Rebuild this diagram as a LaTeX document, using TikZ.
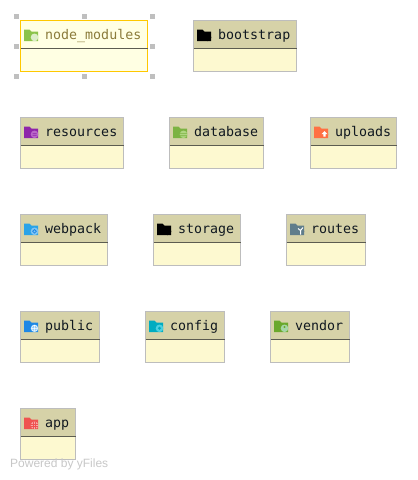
\documentclass[tikz,border=0pt]{standalone}
\usepackage{fontspec}
\usepackage{xcolor}
\setmainfont{Liberation Sans}
\newfontfamily\titlefont{DejaVu Sans Mono}
\definecolor{headcol}{HTML}{D6D2A8}
\definecolor{bodycol}{HTML}{FDF9D0}
\definecolor{linecol}{HTML}{BDBDBD}
\definecolor{titlecol}{HTML}{101820}
\definecolor{rulecol}{HTML}{5C5C50}
\definecolor{nodecol}{HTML}{8BC34A}
\definecolor{nodebadge}{HTML}{DCEDC8}
\definecolor{rescol}{HTML}{8E24AA}
\definecolor{resbadge}{HTML}{BA68C8}
\definecolor{dbcol}{HTML}{7CB342}
\definecolor{dbbadge}{HTML}{AED581}
\definecolor{upcol}{HTML}{FF7043}
\definecolor{webcol}{HTML}{29A3E8}
\definecolor{webbadge}{HTML}{81C4F4}
\definecolor{routecol}{HTML}{607D8B}
\definecolor{pubcol}{HTML}{1E88E5}
\definecolor{pubbadge}{HTML}{90CAF9}
\definecolor{confcol}{HTML}{00ACC1}
\definecolor{confbadge}{HTML}{4DD0E1}
\definecolor{vendcol}{HTML}{6AA82C}
\definecolor{vendbadge}{HTML}{A5D6A7}
\definecolor{appcol}{HTML}{EF5350}
\definecolor{appbadge}{HTML}{F8A8A8}
\tikzset{
  headbox/.style={draw=linecol,fill=headcol,line width=1pt,anchor=north west,minimum height=27.5pt,inner sep=0pt,outer sep=0pt},
  bodybox/.style={draw=linecol,fill=bodycol,line width=1pt,anchor=north west,minimum height=23.5pt,inner sep=0pt,outer sep=0pt},
  titletext/.style={text=titlecol,anchor=base west,inner sep=0pt,font=\titlefont\fontsize{13.3}{14}\selectfont},
  handle/.style={fill=black!25,minimum size=5pt,inner sep=0pt}
}
\newcommand{\folderbox}[8]{
  \node[headbox,minimum width=#4pt] (#1) at (#2,#3) {};
  \node[bodybox,minimum width=#4pt] (#1body) at (#1.south west) {};
  \draw[rulecol,line width=1pt] (#1.south west) -- (#1.south east);
  \node[titletext] (#1title) at ([shift={(24.5,18.5)}]#1.north west) {#5};
  \begin{scope}[shift={(#1.north west)}]
    \fill[#6] (3.5,9) -- (9,9) -- (11,11) -- (17.5,11) -- (17.5,20.5) -- (3.5,20.5) -- cycle;
    \fill[#7] (14,16.8) circle (3.8pt);
    #8
  \end{scope}
}
\begin{document}
\begin{tikzpicture}[x=1pt,y=-1pt]
  \useasboundingbox (0,0) rectangle (418,480);
  \foreach \hx/\hy/\hname in {16.5/16.5/a,84.5/16.5/b,152.5/16.5/c,16.5/46.5/d,152.5/46.5/e,16.5/76.5/f,84.5/76.5/g,152.5/76.5/h} \node[handle] (handle\hname) at (\hx,\hy) {};
  {\definecolor{headcol}{HTML}{FFFFE3}\definecolor{bodycol}{HTML}{FFFFE3}\definecolor{linecol}{HTML}{FFC800}\definecolor{titlecol}{HTML}{8B7B3A}
  \folderbox{nodemodules}{20.5}{20.5}{127}{node\_modules}{nodecol}{nodebadge}{\fill[white!70!nodecol] (12,17) -- (14,14) -- (16,17) -- (16,20) -- (12,20) -- cycle;}}
  \folderbox{bootstrap}{193.5}{20.5}{103}{bootstrap}{black}{black}{}
  \folderbox{resources}{20.5}{117.5}{103}{resources}{rescol}{resbadge}{\fill[rescol] (12,15.5) rectangle (16,16.2) (12,17.3) rectangle (16,18);}
  \folderbox{database}{169.5}{117.5}{94}{database}{dbcol}{dbbadge}{\fill[dbcol] (10.5,15.5) rectangle (17.5,16.2) (10.5,17.8) rectangle (17.5,18.5);}
  \folderbox{uploads}{310.5}{117.5}{86}{uploads}{upcol}{upcol}{\fill[white] (14,13.5) -- (17,16.5) -- (15.2,16.5) -- (15.2,19) -- (12.8,19) -- (12.8,16.5) -- (11,16.5) -- cycle;}
  \folderbox{webpack}{20.5}{214.5}{87}{webpack}{webcol}{webbadge}{\draw[pubcol,line width=.8pt] (14,16.8) circle (1.8pt);}
  \folderbox{storage}{153.5}{214.5}{87}{storage}{black}{black}{}
  \folderbox{routes}{286.5}{214.5}{79}{routes}{routecol}{routecol}{\draw[white,line width=1pt] (14,20) -- (14,16) -- (11.5,14) (14,16) -- (16.5,13);}
  \folderbox{public}{20.5}{311.5}{79}{public}{pubcol}{pubbadge}{\draw[white,line width=.5pt] (14,16.8) circle (3pt) (11,16.8) -- (17,16.8) (14,13.8) -- (14,19.8);}
  \folderbox{config}{145.5}{311.5}{79}{config}{confcol}{confbadge}{\fill[confcol] (14,16.8) circle (1.6pt);}
  \folderbox{vendor}{270.5}{311.5}{79}{vendor}{vendcol}{vendbadge}{\fill[vendcol] (14,15.5) circle (1.2pt);}
  \folderbox{app}{20.5}{408.5}{55}{app}{appcol}{appbadge}{\draw[appcol,line width=.5pt] (10.5,15.5) -- (17.5,15.5) (10.5,18) -- (17.5,18) (12.5,13.5) -- (12.5,20.5) (15.2,13.5) -- (15.2,20.5);}
  \node[text=black!22,anchor=west,inner sep=0pt,font=\fontsize{12}{14}\selectfont] (poweredby) at (10,464.5) {Powered by yFiles};
\end{tikzpicture}
\end{document}
